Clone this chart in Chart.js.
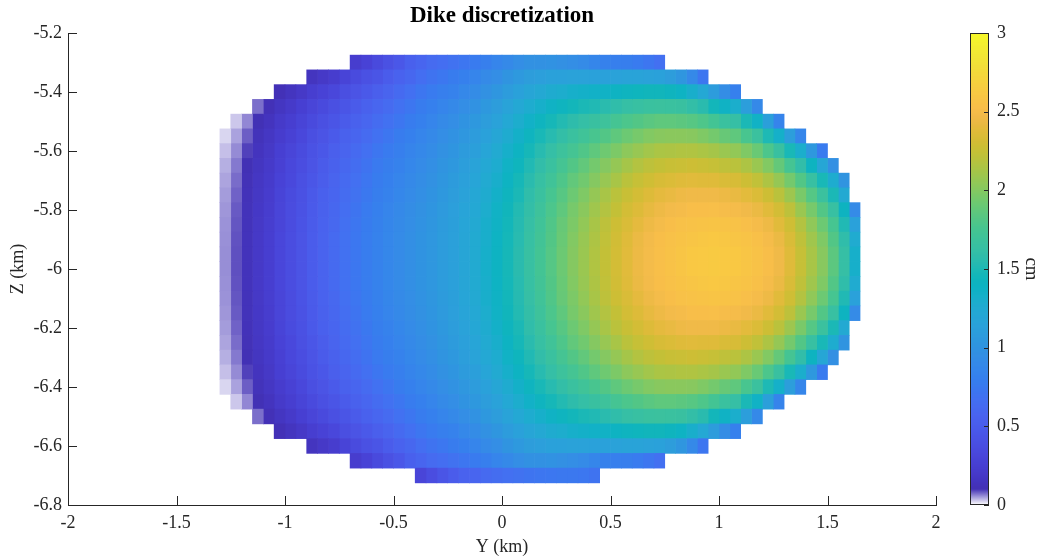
<!DOCTYPE html>
<html>
<head>
<meta charset="utf-8">
<script src="https://cdn.jsdelivr.net/npm/chart.js@4.4.0/dist/chart.umd.min.js"></script>
<style>
  html, body { margin: 0; padding: 0; background: #fff; }
  #wrap { position: relative; width: 1045px; height: 560px; }
  #dike { position: absolute; left: 0; top: 0; }
  #cbar { position: absolute; left: 960px; top: 0; }
</style>
</head>
<body>
<div id="wrap">
  <canvas id="dike" width="960" height="560"></canvas>
  <canvas id="cbar" width="85" height="560"></canvas>
</div>
<script>
// patch grid: 0.05 km square patches, first column centred at Y = -1.275 km,
// row 0 centred at Z = -5.30 km (rows go down in steps of 0.05 km)
const cellSize = 0.05;
const firstY = -1.275;
const firstZ = -5.30;

// index of the top patch row of every column, left to right
const topRow = [5, 4, 4, 3, 3, 2, 2, 2, 1, 1, 1, 1,
  0, 0, 0, 0, 0, 0, 0, 0, 0, 0, 0, 0, 0, 0, 0, 0, 0, 0, 0, 0, 0, 0, 0, 0, 0, 0, 0, 0, 0,
  1, 1, 1, 1, 2, 2, 2, 3, 3, 4, 4, 5, 5, 6, 6, 7, 8, 10];

// opening (cm) of each patch column, top to bottom
const opening = [
  [0.020,0.031,0.039,0.044,0.048,0.051,0.053,0.054,0.055,0.055,0.054,0.053,0.051,0.048,0.044,0.039,0.031,0.020],
  [0.027,0.045,0.056,0.065,0.071,0.076,0.08,0.082,0.084,0.085,0.085,0.084,0.082,0.08,0.076,0.071,0.065,0.056,0.045,0.027],
  [0.058,0.078,0.092,0.103,0.111,0.118,0.123,0.126,0.129,0.13,0.13,0.129,0.126,0.123,0.118,0.111,0.103,0.092,0.078,0.058],
  [0.07,0.103,0.125,0.142,0.155,0.166,0.174,0.181,0.185,0.188,0.19,0.19,0.188,0.185,0.181,0.174,0.166,0.155,0.142,0.125,0.103,0.07],
  [0.109,0.142,0.167,0.185,0.2,0.212,0.222,0.229,0.234,0.238,0.24,0.24,0.238,0.234,0.229,0.222,0.212,0.2,0.185,0.167,0.142,0.109],
  [0.11,0.16,0.2,0.22,0.25,0.26,0.28,0.29,0.3,0.3,0.31,0.31,0.31,0.31,0.3,0.3,0.29,0.28,0.26,0.25,0.22,0.2,0.16,0.11],
  [0.15,0.2,0.24,0.27,0.3,0.32,0.33,0.35,0.36,0.36,0.37,0.37,0.37,0.37,0.36,0.36,0.35,0.33,0.32,0.3,0.27,0.24,0.2,0.15],
  [0.19,0.25,0.29,0.32,0.35,0.37,0.39,0.4,0.41,0.42,0.43,0.43,0.43,0.43,0.42,0.41,0.4,0.39,0.37,0.35,0.32,0.29,0.25,0.19],
  [0.15,0.24,0.3,0.34,0.38,0.41,0.43,0.45,0.47,0.48,0.49,0.5,0.5,0.5,0.5,0.49,0.48,0.47,0.45,0.43,0.41,0.38,0.34,0.3,0.24,0.15],
  [0.19,0.28,0.34,0.39,0.43,0.46,0.49,0.51,0.53,0.54,0.55,0.56,0.56,0.56,0.56,0.55,0.54,0.53,0.51,0.49,0.46,0.43,0.39,0.34,0.28,0.19],
  [0.23,0.32,0.39,0.44,0.48,0.52,0.54,0.57,0.58,0.6,0.61,0.62,0.62,0.62,0.62,0.61,0.6,0.58,0.57,0.54,0.52,0.48,0.44,0.39,0.32,0.23],
  [0.29,0.38,0.44,0.49,0.54,0.57,0.6,0.62,0.64,0.66,0.67,0.68,0.68,0.68,0.68,0.67,0.66,0.64,0.62,0.6,0.57,0.54,0.49,0.44,0.38,0.29],
  [0.23,0.35,0.43,0.49,0.54,0.58,0.62,0.65,0.67,0.69,0.71,0.72,0.73,0.73,0.73,0.73,0.72,0.71,0.69,0.67,0.65,0.62,0.58,0.54,0.49,0.43,0.35,0.23],
  [0.28,0.4,0.47,0.54,0.59,0.63,0.67,0.7,0.72,0.74,0.76,0.77,0.78,0.78,0.78,0.78,0.77,0.76,0.74,0.72,0.7,0.67,0.63,0.59,0.54,0.47,0.4,0.28],
  [0.34,0.44,0.52,0.59,0.64,0.68,0.72,0.75,0.77,0.79,0.81,0.82,0.83,0.83,0.83,0.83,0.82,0.81,0.79,0.77,0.75,0.72,0.68,0.64,0.59,0.52,0.44,0.34],
  [0.4,0.5,0.57,0.63,0.68,0.72,0.76,0.79,0.81,0.83,0.85,0.86,0.87,0.87,0.87,0.87,0.86,0.85,0.83,0.81,0.79,0.76,0.72,0.68,0.63,0.57,0.5,0.4],
  [0.46,0.55,0.62,0.68,0.72,0.77,0.8,0.83,0.85,0.87,0.89,0.9,0.91,0.91,0.91,0.91,0.9,0.89,0.87,0.85,0.83,0.8,0.77,0.72,0.68,0.62,0.55,0.46],
  [0.53,0.6,0.67,0.72,0.77,0.81,0.84,0.87,0.89,0.91,0.93,0.94,0.95,0.95,0.95,0.95,0.94,0.93,0.91,0.89,0.87,0.84,0.81,0.77,0.72,0.67,0.6,0.53],
  [0.58,0.66,0.72,0.77,0.81,0.85,0.88,0.91,0.93,0.95,0.97,0.98,0.99,0.99,0.99,0.99,0.98,0.97,0.95,0.93,0.91,0.88,0.85,0.81,0.77,0.72,0.66,0.58,0.3],
  [0.63,0.7,0.76,0.81,0.85,0.89,0.92,0.95,0.97,0.99,1.01,1.02,1.03,1.03,1.03,1.03,1.02,1.01,0.99,0.97,0.95,0.92,0.89,0.85,0.81,0.76,0.7,0.63,0.37],
  [0.66,0.73,0.8,0.85,0.9,0.94,0.97,1,1.02,1.04,1.06,1.07,1.08,1.08,1.08,1.08,1.07,1.06,1.04,1.02,1,0.97,0.94,0.9,0.85,0.8,0.73,0.66,0.44],
  [0.69,0.77,0.83,0.89,0.94,0.98,1.01,1.04,1.07,1.09,1.11,1.12,1.13,1.13,1.13,1.13,1.12,1.11,1.09,1.07,1.04,1.01,0.98,0.94,0.89,0.83,0.77,0.69,0.5],
  [0.72,0.81,0.88,0.94,0.99,1.03,1.07,1.1,1.13,1.15,1.17,1.18,1.19,1.19,1.19,1.19,1.18,1.17,1.15,1.13,1.1,1.07,1.03,0.99,0.94,0.88,0.81,0.72,0.55],
  [0.76,0.85,0.92,0.98,1.04,1.08,1.12,1.16,1.18,1.21,1.22,1.24,1.25,1.25,1.25,1.25,1.24,1.22,1.21,1.18,1.16,1.12,1.08,1.04,0.98,0.92,0.85,0.76,0.58],
  [0.8,0.9,0.97,1.04,1.09,1.14,1.18,1.22,1.25,1.27,1.29,1.31,1.31,1.32,1.32,1.31,1.31,1.29,1.27,1.25,1.22,1.18,1.14,1.09,1.04,0.97,0.9,0.8,0.62],
  [0.85,0.94,1.02,1.09,1.15,1.2,1.25,1.28,1.31,1.34,1.36,1.37,1.38,1.39,1.39,1.38,1.37,1.36,1.34,1.31,1.28,1.25,1.2,1.15,1.09,1.02,0.94,0.85,0.65],
  [0.89,1,1.08,1.16,1.22,1.27,1.32,1.36,1.39,1.42,1.44,1.45,1.46,1.47,1.47,1.46,1.45,1.44,1.42,1.39,1.36,1.32,1.27,1.22,1.16,1.08,1,0.89,0.67],
  [0.94,1.05,1.14,1.22,1.29,1.34,1.39,1.43,1.47,1.49,1.52,1.53,1.54,1.55,1.55,1.54,1.53,1.52,1.49,1.47,1.43,1.39,1.34,1.29,1.22,1.14,1.05,0.94,0.69],
  [0.97,1.09,1.19,1.28,1.35,1.41,1.47,1.51,1.55,1.58,1.6,1.62,1.63,1.64,1.64,1.63,1.62,1.6,1.58,1.55,1.51,1.47,1.41,1.35,1.28,1.19,1.09,0.97,0.71],
  [0.97,1.11,1.23,1.32,1.41,1.48,1.54,1.59,1.63,1.66,1.69,1.71,1.72,1.73,1.73,1.72,1.71,1.69,1.66,1.63,1.59,1.54,1.48,1.41,1.32,1.23,1.11,0.97,0.72],
  [0.98,1.14,1.27,1.37,1.47,1.54,1.61,1.66,1.71,1.75,1.78,1.8,1.81,1.82,1.82,1.81,1.8,1.78,1.75,1.71,1.66,1.61,1.54,1.47,1.37,1.27,1.14,0.98,0.73],
  [0.96,1.14,1.29,1.41,1.52,1.6,1.68,1.74,1.79,1.83,1.86,1.89,1.9,1.91,1.91,1.9,1.89,1.86,1.83,1.79,1.74,1.68,1.6,1.52,1.41,1.29,1.14,0.96,0.74],
  [0.94,1.15,1.32,1.45,1.57,1.66,1.74,1.81,1.87,1.91,1.95,1.97,1.99,2,2,1.99,1.97,1.95,1.91,1.87,1.81,1.74,1.66,1.57,1.45,1.32,1.15,0.94,0.74],
  [0.91,1.15,1.34,1.49,1.61,1.71,1.8,1.87,1.93,1.98,2.02,2.05,2.07,2.08,2.08,2.07,2.05,2.02,1.98,1.93,1.87,1.8,1.71,1.61,1.49,1.34,1.15,0.91,0.73],
  [0.86,1.14,1.35,1.51,1.65,1.76,1.86,1.94,2,2.06,2.1,2.13,2.15,2.16,2.16,2.15,2.13,2.1,2.06,2,1.94,1.86,1.76,1.65,1.51,1.35,1.14,0.86,0.7],
  [0.82,1.14,1.36,1.55,1.69,1.81,1.92,2,2.07,2.13,2.17,2.21,2.23,2.24,2.24,2.23,2.21,2.17,2.13,2.07,2,1.92,1.81,1.69,1.55,1.36,1.14,0.82],
  [0.8,1.15,1.39,1.58,1.74,1.86,1.97,2.06,2.13,2.2,2.24,2.28,2.3,2.31,2.31,2.3,2.28,2.24,2.2,2.13,2.06,1.97,1.86,1.74,1.58,1.39,1.15,0.8],
  [0.79,1.16,1.41,1.62,1.78,1.91,2.03,2.12,2.2,2.26,2.31,2.34,2.37,2.38,2.38,2.37,2.34,2.31,2.26,2.2,2.12,2.03,1.91,1.78,1.62,1.41,1.16,0.79],
  [0.76,1.16,1.43,1.64,1.81,1.95,2.07,2.17,2.25,2.31,2.36,2.4,2.43,2.44,2.44,2.43,2.4,2.36,2.31,2.25,2.17,2.07,1.95,1.81,1.64,1.43,1.16,0.76],
  [0.72,1.15,1.44,1.66,1.84,1.99,2.11,2.21,2.29,2.36,2.41,2.45,2.48,2.49,2.49,2.48,2.45,2.41,2.36,2.29,2.21,2.11,1.99,1.84,1.66,1.44,1.15,0.72],
  [0.67,1.14,1.44,1.67,1.86,2.01,2.14,2.24,2.33,2.4,2.45,2.49,2.52,2.53,2.53,2.52,2.49,2.45,2.4,2.33,2.24,2.14,2.01,1.86,1.67,1.44,1.14,0.67],
  [1.09,1.42,1.66,1.86,2.02,2.15,2.26,2.35,2.42,2.48,2.52,2.55,2.56,2.56,2.55,2.52,2.48,2.42,2.35,2.26,2.15,2.02,1.86,1.66,1.42,1.09],
  [1.02,1.38,1.65,1.85,2.02,2.16,2.27,2.37,2.45,2.5,2.55,2.57,2.59,2.59,2.57,2.55,2.5,2.45,2.37,2.27,2.16,2.02,1.85,1.65,1.38,1.02],
  [0.89,1.31,1.6,1.83,2.01,2.16,2.28,2.38,2.46,2.52,2.56,2.59,2.61,2.61,2.59,2.56,2.52,2.46,2.38,2.28,2.16,2.01,1.83,1.6,1.31,0.89],
  [0.72,1.22,1.55,1.79,1.98,2.14,2.27,2.37,2.46,2.52,2.57,2.6,2.62,2.62,2.6,2.57,2.52,2.46,2.37,2.27,2.14,1.98,1.79,1.55,1.22,0.72],
  [1.08,1.45,1.73,1.94,2.12,2.25,2.37,2.46,2.53,2.58,2.61,2.63,2.63,2.61,2.58,2.53,2.46,2.37,2.25,2.12,1.94,1.73,1.45,1.08],
  [0.93,1.37,1.66,1.89,2.08,2.22,2.34,2.44,2.51,2.57,2.6,2.62,2.62,2.6,2.57,2.51,2.44,2.34,2.22,2.08,1.89,1.66,1.37,0.93],
  [0.81,1.3,1.62,1.86,2.05,2.2,2.33,2.42,2.5,2.56,2.59,2.61,2.61,2.59,2.56,2.5,2.42,2.33,2.2,2.05,1.86,1.62,1.3,0.81],
  [1.1,1.49,1.76,1.98,2.15,2.28,2.39,2.47,2.53,2.57,2.59,2.59,2.57,2.53,2.47,2.39,2.28,2.15,1.98,1.76,1.49,1.1],
  [0.89,1.36,1.67,1.9,2.08,2.23,2.35,2.43,2.5,2.54,2.56,2.56,2.54,2.5,2.43,2.35,2.23,2.08,1.9,1.67,1.36,0.89],
  [1.12,1.5,1.78,1.99,2.15,2.28,2.38,2.45,2.5,2.52,2.52,2.5,2.45,2.38,2.28,2.15,1.99,1.78,1.5,1.12],
  [0.84,1.33,1.65,1.88,2.06,2.2,2.31,2.38,2.43,2.46,2.46,2.43,2.38,2.31,2.2,2.06,1.88,1.65,1.33,0.84],
  [1.1,1.48,1.74,1.94,2.09,2.21,2.29,2.34,2.37,2.37,2.34,2.29,2.21,2.09,1.94,1.74,1.48,1.1],
  [0.86,1.3,1.59,1.81,1.96,2.08,2.17,2.22,2.25,2.25,2.22,2.17,2.08,1.96,1.81,1.59,1.3,0.86],
  [1.04,1.4,1.64,1.82,1.95,2.04,2.1,2.13,2.13,2.1,2.04,1.95,1.82,1.64,1.4,1.04],
  [0.76,1.2,1.48,1.67,1.81,1.91,1.98,2.01,2.01,1.98,1.91,1.81,1.67,1.48,1.2,0.76],
  [0.96,1.28,1.49,1.64,1.75,1.81,1.85,1.85,1.81,1.75,1.64,1.49,1.28,0.96],
  [1,1.24,1.4,1.51,1.58,1.62,1.62,1.58,1.51,1.4,1.24,1],
  [0.91,1.14,1.26,1.32,1.32,1.26,1.14,0.91]
];

// colour limits (cm) and colorbar ticks
const cmin = 0, cmax = 3;
const cbarTicks = [0, 0.5, 1, 1.5, 2, 2.5, 3];

// parula, 64 steps
const parula = ['#3E26A8','#402AB4','#422EC0','#4332CB','#4537D5','#463CDE','#4741E5','#4747EB',
  '#484DF0','#4852F4','#4758F8','#465EFB','#4563FD','#4269FE','#3E6FFF','#3875FE',
  '#327CFC','#2F81FA','#2E87F7','#2D8CF3','#2B91EF','#2796EB','#259BE8','#23A0E5',
  '#20A5E3','#1CA9DF','#18ADDB','#12B1D6','#08B5D0','#01B8CA','#02BAC3','#0BBDBD',
  '#19BFB6','#24C1AE','#2CC4A7','#31C69F','#37C897','#3FCA8E','#4ACB84','#57CC7A',
  '#64CD6F','#72CD64','#81CC59','#8FCB4E','#9DC943','#ABC739','#B9C431','#C5C22A',
  '#D1BF27','#DCBD29','#E6BB2D','#F0BA36','#F8BA3D','#FEBE3C','#FEC338','#FEC934',
  '#FCCF30','#FAD62D','#F7DC2A','#F5E327','#F5E924','#F6EF20','#F7F51B','#F9FB15'];
// the lowest part of the map fades to white
const fadeBelow = 0.1;
// patches are drawn slightly muted
const mute = 0.1;

const hexRgb = h => [1, 3, 5].map(i => parseInt(h.substr(i, 2), 16));
const paruRgb = parula.map(hexRgb);

function mapRgb(v) {
  const t = Math.min(Math.max((v - cmin) / (cmax - cmin), 0), 1) * (paruRgb.length - 1);
  const i = Math.min(Math.floor(t), paruRgb.length - 2);
  const f = t - i;
  const c = paruRgb[i].map((c, k) => c + (paruRgb[i + 1][k] - c) * f);
  const g = 0.299 * c[0] + 0.587 * c[1] + 0.114 * c[2];
  return c.map(x => x + (g - x) * mute);
}

function colorFor(v) {
  let rgb;
  if (v < fadeBelow) {
    const end = mapRgb(fadeBelow);
    const f = Math.max(v, 0) / fadeBelow;
    rgb = end.map(c => 255 + (c - 255) * f);
  } else {
    rgb = mapRgb(v);
  }
  return `rgb(${rgb.map(Math.round).join(',')})`;
}

const ink = '#262626';
const serif = "'Liberation Serif', 'Times New Roman', serif";
const label = v => String(Math.round(v * 10) / 10);

// MATLAB-style ticks pointing into the axes
const inwardTicks = {
  id: 'inwardTicks',
  afterDraw(chart, args, opts) {
    const { ctx, chartArea: a } = chart;
    ctx.save();
    ctx.strokeStyle = ink;
    ctx.lineWidth = 1;
    ctx.beginPath();
    (opts.axes || []).forEach(([id, side, len]) => {
      const s = chart.scales[id];
      s.ticks.forEach((t, i) => {
        const p = Math.round(s.getPixelForTick(i)) + 0.5;
        if (side === 'bottom') { ctx.moveTo(p, a.bottom); ctx.lineTo(p, a.bottom - len); }
        if (side === 'left') { ctx.moveTo(a.left, p); ctx.lineTo(a.left + len, p); }
        if (side === 'right') { ctx.moveTo(a.right, p); ctx.lineTo(a.right - len, p); }
      });
    });
    ctx.stroke();
    if (opts.box) {
      ctx.strokeRect(Math.round(a.left) + 0.5, Math.round(a.top) + 0.5,
        Math.round(a.right - a.left) - 1, Math.round(a.bottom - a.top) - 1);
    }
    ctx.restore();
  }
};

// one floating-bar dataset per patch column
const patchSets = opening.map((col, j) => {
  const y = +(firstY + j * cellSize).toFixed(3);
  return {
    data: col.map((v, k) => {
      const zc = firstZ - (topRow[j] + k) * cellSize;
      return { x: y, y: [+(zc - cellSize / 2).toFixed(3), +(zc + cellSize / 2).toFixed(3)] };
    }),
    backgroundColor: col.map(colorFor),
    borderWidth: 0,
    grouped: false,
    barPercentage: 1,
    categoryPercentage: 1
  };
});

new Chart(document.getElementById('dike'), {
  type: 'bar',
  data: { datasets: patchSets },
  plugins: [inwardTicks],
  options: {
    responsive: false,
    animation: false,
    events: [],
    layout: { padding: { left: 0, right: 24, top: 2, bottom: 0 } },
    plugins: {
      legend: { display: false },
      tooltip: { enabled: false },
      title: {
        display: true, text: 'Dike discretization', fullSize: false, color: '#000',
        font: { family: serif, size: 23, weight: 'bold', lineHeight: 1.2 },
        padding: { top: 0, bottom: 3.4 }
      },
      inwardTicks: { axes: [['x', 'bottom', 9], ['y', 'left', 9]] }
    },
    scales: {
      x: {
        type: 'linear', min: -2, max: 2, offset: false,
        grid: { display: false, drawTicks: false, offset: false },
        border: { display: true, color: ink, width: 1 },
        ticks: { stepSize: 0.5, color: ink, padding: 7, font: { family: serif, size: 18 }, callback: label },
        title: { display: true, text: 'Y (km)', color: ink, font: { family: serif, size: 18 }, padding: { top: 0, bottom: 2 } },
        afterFit: s => { s.height = 55; }
      },
      y: {
        type: 'linear', min: -6.8, max: -5.2,
        grid: { display: false, drawTicks: false },
        border: { display: true, color: ink, width: 1 },
        ticks: { stepSize: 0.2, color: ink, padding: 6, font: { family: serif, size: 18 }, callback: label },
        title: { display: true, text: 'Z (km)', color: ink, font: { family: serif, size: 18 }, padding: { top: 7, bottom: 0 } },
        afterFit: s => { s.width = 68; }
      }
    }
  }
});

// colorbar: one-pixel slices of the colour map stacked from cmin to cmax
const slices = 472;
const cbarSets = [];
for (let k = 0; k < slices; k++) {
  const lo = cmin + (cmax - cmin) * k / slices;
  const hi = cmin + (cmax - cmin) * (k + 1) / slices;
  cbarSets.push({
    data: [[lo, hi]],
    backgroundColor: colorFor((lo + hi) / 2),
    borderWidth: 0, grouped: false, barPercentage: 1, categoryPercentage: 1
  });
}

new Chart(document.getElementById('cbar'), {
  type: 'bar',
  data: { labels: [''], datasets: cbarSets },
  plugins: [inwardTicks],
  options: {
    responsive: false,
    animation: false,
    events: [],
    layout: { padding: { left: 10, right: 0, top: 33, bottom: 55 } },
    plugins: {
      legend: { display: false },
      tooltip: { enabled: false },
      inwardTicks: { axes: [['y', 'right', 5]], box: true }
    },
    scales: {
      x: { display: false },
      y: {
        position: 'right', min: cmin, max: cmax,
        grid: { display: false, drawTicks: false },
        border: { display: false },
        ticks: { color: ink, padding: 8, font: { family: serif, size: 18 }, callback: label, stepSize: 0.5 },
        afterBuildTicks: s => { s.ticks = cbarTicks.map(v => ({ value: v })); },
        title: { display: true, text: 'cm', color: ink, font: { family: serif, size: 19 }, padding: { top: 3, bottom: 0 } },
        afterFit: s => { s.width = 56; }
      }
    }
  }
});
</script>
</body>
</html>
